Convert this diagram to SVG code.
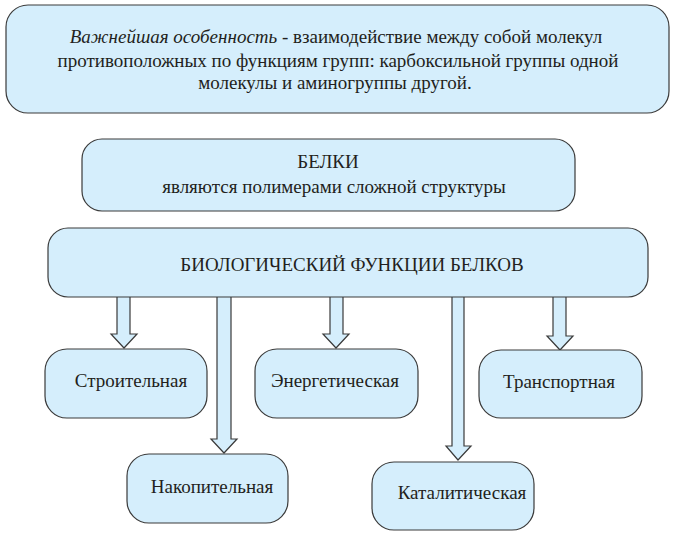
<svg xmlns="http://www.w3.org/2000/svg" width="675" height="537" viewBox="0 0 675 537">
<style>
.box{fill:#d5eefc;stroke:#3a3a3a;stroke-width:1.2}
.arr{fill:#d5eefc;stroke:#3a3a3a;stroke-width:1.2;stroke-linejoin:miter}
.t{font-family:'Liberation Serif',serif;font-size:19px;fill:#231f20;text-anchor:middle}
</style>
<rect width="675" height="537" fill="#ffffff"/>
<g id="connectors">
<path class="arr" d="M117,290 V334 H111 L124,348 L137,334 H130 V290"/>
<path class="arr" d="M217,290 V439 H211 L224,453 L237,439 H231 V290"/>
<path class="arr" d="M330,290 V334 H323 L336,348 L349,334 H343 V290"/>
<path class="arr" d="M452,290 V446 H446 L458,460 L471,446 H464 V290"/>
<path class="arr" d="M553,290 V336 H547 L560,350 L573,336 H566 V290"/>
</g>
<g id="feature">
<rect class="box" x="6" y="5" width="663" height="108" rx="22"/>
<text class="t" x="336" y="43"><tspan font-style="italic">Важнейшая особенность</tspan> - взаимодействие между собой молекул</text>
<text class="t" x="338" y="67">противоположных по функциям групп: карбоксильной группы одной</text>
<text class="t" x="335" y="89">молекулы и аминогруппы другой.</text>
</g>
<g id="proteins">
<rect class="box" x="82" y="139" width="493" height="72" rx="20"/>
<text class="t" x="328" y="168">БЕЛКИ</text>
<text class="t" x="334" y="193">являются полимерами сложной структуры</text>
</g>
<g id="functions">
<rect class="box" x="48" y="228" width="600" height="69" rx="20"/>
<text class="t" x="352" y="271">БИОЛОГИЧЕСКИЙ ФУНКЦИИ БЕЛКОВ</text>
</g>
<g id="construct">
<rect class="box" x="45" y="349" width="162" height="69" rx="22"/>
<text class="t" x="131" y="387">Строительная</text>
</g>
<g id="energy">
<rect class="box" x="255" y="349" width="163" height="69" rx="22"/>
<text class="t" x="335" y="387">Энергетическая</text>
</g>
<g id="transport">
<rect class="box" x="479" y="350" width="163" height="68" rx="22"/>
<text class="t" x="559" y="388">Транспортная</text>
</g>
<g id="storage">
<rect class="box" x="127" y="454" width="161" height="69" rx="22"/>
<text class="t" x="212" y="493">Накопительная</text>
</g>
<g id="catalytic">
<rect class="box" x="372" y="462" width="162" height="68" rx="22"/>
<text class="t" x="462" y="499">Каталитическая</text>
</g>
</svg>
